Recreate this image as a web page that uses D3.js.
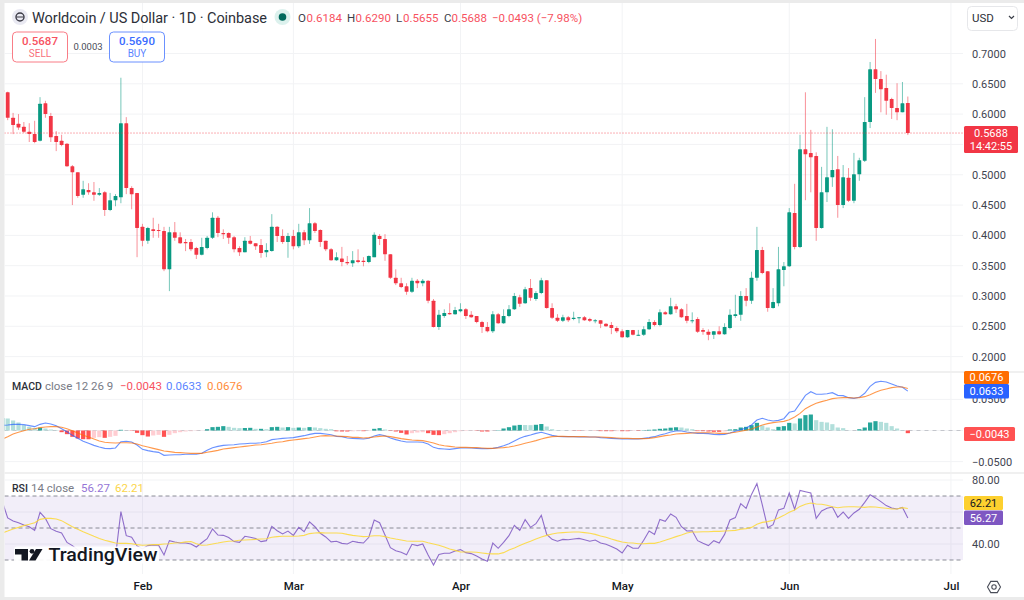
<!DOCTYPE html>
<html>
<head>
<meta charset="utf-8">
<title>Worldcoin / US Dollar</title>
<script src="https://cdn.jsdelivr.net/npm/d3@7"></script>
<style>
html,body{margin:0;padding:0;background:#fff;overflow:hidden}
svg{display:block}
text{font-family:Roboto,"Liberation Sans",sans-serif}
</style>
</head>
<body>
<svg id="chart" width="1024" height="600"></svg>
<script>
// Daily session values, one entry per day starting from firstDay.
const firstDay = Date.UTC(2026, 0, 6);
const monthStarts = [Date.UTC(2026,1,1), Date.UTC(2026,2,1), Date.UTC(2026,3,1), Date.UTC(2026,4,1), Date.UTC(2026,5,1), Date.UTC(2026,6,1)];

const opens = [.640,
.636,.594,.584,.579,.571,.567,.556,.618,.597,.564,
.556,.551,.514,.504,.467,.475,.471,.467,.471,.442,
.458,.463,.585,.478,.470,.414,.391,.410,.409,.407,
.344,.405,.397,.389,.389,.379,.368,.379,.396,.429,
.404,.404,.397,.379,.372,.391,.387,.384,.372,.374,
.414,.399,.389,.399,.382,.405,.392,.420,.409,.391,
.377,.359,.362,.356,.354,.359,.358,.356,.364,.399,
.394,.369,.330,.321,.316,.307,.325,.321,.325,.292,
.249,.267,.272,.270,.275,.278,.269,.267,.257,.249,
.242,.270,.255,.267,.278,.298,.288,.313,.295,.305,
.326,.280,.264,.259,.265,.262,.264,.265,.262,.259,
.260,.254,.252,.247,.242,.232,.244,.235,.236,.245,
.257,.252,.273,.270,.283,.278,.267,.259,.262,.244,
.241,.236,.242,.237,.247,.267,.269,.300,.292,.330,
.376,.341,.280,.288,.343,.349,.437,.381,.542,.536,
.531,.412,.471,.496,.509,.450,.495,.457,.501,.523,
.587,.674,.658,.643,.625,.610,.603,.6184];

const highs = [.645,
.637,.602,.600,.587,.585,.589,.628,.622,.602,.572,
.566,.552,.516,.504,.490,.486,.488,.478,.473,.470,
.468,.660,.595,.481,.470,.419,.414,.429,.419,.414,
.414,.422,.405,.394,.394,.381,.396,.399,.438,.432,
.410,.405,.399,.382,.397,.399,.387,.394,.387,.435,
.415,.410,.404,.409,.419,.409,.445,.422,.410,.391,
.379,.372,.381,.366,.374,.377,.364,.367,.405,.402,
.402,.369,.344,.330,.321,.330,.328,.328,.326,.295,
.277,.278,.288,.282,.288,.280,.275,.267,.259,.257,
.275,.272,.278,.285,.305,.302,.315,.328,.308,.330,
.326,.288,.270,.269,.267,.274,.265,.267,.264,.262,
.260,.255,.257,.250,.245,.244,.244,.244,.250,.262,
.260,.278,.275,.297,.287,.280,.287,.273,.265,.247,
.245,.242,.250,.255,.278,.302,.308,.313,.340,.414,
.381,.341,.313,.381,.356,.445,.485,.566,.636,.574,
.537,.513,.579,.575,.531,.516,.511,.536,.528,.628,
.686,.724,.671,.665,.627,.651,.653,.6290];

const lows = [.628,
.590,.567,.574,.569,.554,.552,.555,.594,.554,.539,
.547,.513,.450,.462,.462,.467,.457,.465,.432,.440,
.448,.453,.468,.443,.364,.382,.386,.396,.396,.341,
.308,.391,.386,.374,.374,.361,.367,.377,.394,.397,
.394,.386,.372,.366,.372,.385,.376,.363,.364,.373,
.389,.386,.363,.377,.379,.384,.386,.404,.381,.374,
.358,.358,.349,.351,.348,.354,.349,.354,.364,.384,
.358,.328,.318,.313,.302,.305,.313,.316,.288,.248,
.244,.264,.269,.269,.273,.262,.264,.255,.239,.240,
.239,.254,.254,.265,.277,.282,.287,.292,.292,.303,
.279,.262,.257,.257,.257,.260,.255,.259,.257,.255,
.247,.249,.237,.239,.231,.231,.235,.234,.234,.244,
.250,.250,.269,.269,.272,.264,.255,.255,.239,.236,
.227,.229,.236,.236,.245,.264,.259,.283,.287,.325,
.336,.274,.279,.283,.316,.348,.377,.379,.458,.471,
.391,.411,.455,.480,.429,.445,.455,.453,.490,.521,
.577,.635,.603,.599,.592,.590,.603,.5655];

const closes = [.636,
.594,.582,.578,.571,.567,.554,.617,.600,.562,.554,
.549,.514,.504,.465,.476,.471,.467,.470,.442,.458,
.465,.585,.478,.468,.412,.391,.412,.407,.407,.344,
.405,.396,.387,.387,.377,.368,.381,.396,.429,.404,
.402,.396,.377,.372,.391,.386,.382,.371,.376,.414,
.399,.389,.399,.382,.405,.392,.420,.407,.389,.377,
.359,.364,.356,.354,.359,.356,.356,.366,.401,.394,
.369,.330,.321,.315,.307,.325,.321,.325,.292,.249,
.269,.272,.270,.277,.278,.267,.265,.257,.249,.242,
.270,.255,.267,.278,.300,.287,.311,.297,.305,.326,
.280,.264,.259,.265,.260,.264,.265,.260,.259,.260,
.254,.250,.247,.242,.232,.244,.236,.236,.245,.257,
.252,.273,.270,.283,.278,.265,.259,.260,.241,.241,
.236,.242,.237,.249,.269,.270,.300,.292,.330,.376,
.338,.280,.290,.344,.349,.438,.381,.542,.534,.529,
.412,.471,.496,.508,.450,.496,.457,.501,.524,.587,
.674,.658,.641,.622,.610,.603,.618,.5688];

const macdLine = [.0083,
.0088,.0099,.0099,.0094,.0078,.0062,.0099,.0121,.0105,.0078,
.0029,-.0019,-.0078,-.0126,-.0174,-.0206,-.0239,-.0265,-.0287,-.0292,
-.0281,-.0180,-.0174,-.0185,-.0233,-.0303,-.0324,-.0340,-.0351,-.0399,
-.0394,-.0389,-.0389,-.0383,-.0383,-.0383,-.0367,-.0319,-.0276,-.0255,
-.0239,-.0233,-.0228,-.0217,-.0212,-.0206,-.0206,-.0196,-.0180,-.0147,
-.0137,-.0126,-.0121,-.0115,-.0099,-.0083,-.0062,-.0046,-.0046,-.0056,
-.0067,-.0094,-.0099,-.0121,-.0126,-.0131,-.0137,-.0126,-.0088,-.0067,
-.0083,-.0121,-.0147,-.0169,-.0185,-.0185,-.0185,-.0190,-.0217,-.0271,
-.0292,-.0297,-.0303,-.0292,-.0281,-.0281,-.0281,-.0287,-.0292,-.0292,
-.0287,-.0271,-.0244,-.0212,-.0169,-.0126,-.0094,-.0072,-.0046,-.0029,
-.0051,-.0078,-.0094,-.0099,-.0099,-.0099,-.0105,-.0105,-.0105,-.0105,
-.0115,-.0121,-.0126,-.0131,-.0137,-.0137,-.0137,-.0137,-.0126,-.0115,
-.0099,-.0072,-.0051,-.0024,-.0008,-.0008,-.0024,-.0035,-.0046,-.0046,
-.0051,-.0062,-.0067,-.0062,-.0040,-.0013,.0013,.0040,.0088,.0169,
.0196,.0169,.0153,.0163,.0190,.0292,.0314,.0437,.0565,.0624,
.0582,.0582,.0592,.0608,.0565,.0560,.0528,.0517,.0533,.0598,
.0710,.0774,.0791,.0780,.0748,.0716,.0694,.0633];

const signalLine = [-.0137,
-.0099,-.0056,-.0029,-.0003,.0019,.0029,.0046,.0056,.0062,.0062,
.0051,.0029,-.0003,-.0040,-.0078,-.0105,-.0137,-.0169,-.0190,-.0196,
-.0201,-.0196,-.0196,-.0201,-.0217,-.0244,-.0265,-.0287,-.0308,-.0330,
-.0340,-.0351,-.0356,-.0362,-.0367,-.0367,-.0367,-.0351,-.0335,-.0319,
-.0297,-.0287,-.0276,-.0265,-.0255,-.0244,-.0233,-.0228,-.0217,-.0206,
-.0190,-.0180,-.0163,-.0153,-.0142,-.0131,-.0121,-.0105,-.0088,-.0083,
-.0088,-.0088,-.0094,-.0099,-.0110,-.0110,-.0121,-.0115,-.0105,-.0094,
-.0088,-.0099,-.0115,-.0131,-.0142,-.0153,-.0158,-.0163,-.0180,-.0201,
-.0228,-.0244,-.0255,-.0265,-.0271,-.0271,-.0276,-.0276,-.0281,-.0287,
-.0287,-.0281,-.0276,-.0265,-.0249,-.0228,-.0206,-.0185,-.0163,-.0137,
-.0115,-.0099,-.0094,-.0094,-.0099,-.0099,-.0099,-.0099,-.0105,-.0105,
-.0105,-.0110,-.0115,-.0121,-.0126,-.0126,-.0131,-.0131,-.0131,-.0126,
-.0115,-.0099,-.0083,-.0072,-.0056,-.0051,-.0046,-.0040,-.0035,-.0035,
-.0035,-.0040,-.0046,-.0046,-.0040,-.0029,-.0013,.0003,.0024,.0056,
.0088,.0110,.0126,.0137,.0147,.0174,.0217,.0276,.0351,.0399,
.0437,.0464,.0485,.0512,.0523,.0528,.0528,.0523,.0528,.0544,
.0576,.0614,.0646,.0667,.0689,.0699,.0699,.0676];

const macdHist = [.0200,
.0193,.0161,.0129,.0086,.0059,.0043,.0045,.0032,.0016,.0005,
-.0027,-.0059,-.0102,-.0129,-.0140,-.0141,-.0118,-.0107,-.0118,-.0102,
-.0086,.0011,0,-.0005,-.0038,-.0075,-.0097,-.0080,-.0070,-.0102,
-.0070,-.0043,-.0027,-.0016,-.0011,-.0005,-.0002,.0021,.0054,.0059,
.0070,.0059,.0043,.0038,.0040,.0043,.0027,.0027,.0021,.0054,
.0059,.0048,.0054,.0043,.0048,.0043,.0054,.0048,.0038,.0027,
.0021,-.0013,-.0016,-.0016,-.0013,-.0011,-.0011,-.0005,.0027,.0038,
.0016,-.0005,-.0016,-.0038,-.0064,-.0043,-.0032,-.0027,-.0043,-.0070,
-.0075,-.0059,-.0043,-.0027,-.0011,-.0008,-.0005,-.0005,-.0016,-.0016,
-.0002,.0005,.0032,.0053,.0080,.0090,.0088,.0086,.0092,.0104,
.0064,.0021,.0005,.0003,0,-.0003,-.0006,-.0005,-.0003,-.0003,
-.0010,-.0011,-.0011,-.0010,-.0011,-.0011,-.0006,-.0006,.0005,.0011,
.0016,.0027,.0032,.0045,.0052,.0048,.0032,.0021,-.0010,-.0011,
-.0016,-.0021,-.0021,-.0016,.0016,.0021,.0048,.0059,.0086,.0123,
.0080,.0048,.0021,.0059,.0070,.0123,.0113,.0193,.0247,.0257,
.0166,.0139,.0129,.0102,.0048,.0038,.0003,.0001,.0021,.0048,
.0129,.0150,.0139,.0123,.0070,.0032,.0005,-.0043];

const rsiLine = [66.5,
56.3,54.4,53.3,51.9,50.8,48.5,59.8,56.0,49.6,47.9,
46.9,41.0,39.0,36.3,34.2,33.1,33.1,32.5,31.0,30.6,
32.1,60.2,45.2,44.2,38.8,36.9,39.0,39.4,39.2,33.1,
42.1,41.3,40.6,40.6,40.0,38.1,40.8,43.3,49.4,45.6,
45.4,44.0,41.5,41.0,44.8,44.2,43.5,41.5,42.1,51.0,
48.3,46.3,48.1,45.4,50.4,47.7,53.8,50.8,46.7,44.4,
41.3,41.7,40.4,40.0,41.7,41.0,40.6,44.2,55.0,53.3,
45.6,37.7,35.8,34.8,33.3,39.8,39.0,40.0,33.1,26.9,
33.5,34.2,34.2,35.6,36.5,34.6,34.0,32.5,30.6,29.2,
40.6,37.3,41.0,45.2,51.7,48.5,55.2,50.4,52.7,57.9,
46.0,42.9,41.7,42.9,42.7,43.1,43.5,42.7,41.7,42.5,
40.6,39.8,38.5,36.9,34.4,39.2,37.3,37.3,42.3,48.1,
46.0,55.4,54.2,58.8,56.7,50.8,48.1,48.3,42.1,40.4,
39.0,42.1,40.6,46.0,55.0,56.5,65.2,62.3,71.0,77.7,
64.4,50.2,52.1,61.3,62.3,71.9,61.7,73.5,72.7,71.9,
56.0,60.6,62.3,63.1,56.7,60.0,56.0,59.4,61.7,66.0,
70.8,68.8,66.5,64.0,62.5,61.9,62.9,56.27];

const rsiAverage = [46.9,
48.1,49.4,50.4,51.5,52.3,53.3,55.4,56.0,56.0,55.6,
54.6,52.7,50.8,49.2,47.7,46.3,44.8,43.5,42.3,41.5,
40.6,40.4,40.4,40.2,39.6,39.2,39.4,39.6,39.6,40.0,
40.2,40.6,40.8,41.3,41.5,40.2,39.2,39.4,40.0,40.6,
41.3,41.7,41.9,42.3,42.5,42.7,42.9,43.1,43.3,44.2,
44.6,44.8,44.8,44.8,45.0,45.4,46.5,46.9,47.1,46.9,
46.9,46.9,46.7,46.0,45.4,45.0,44.6,44.8,45.2,45.2,
44.6,43.8,43.1,42.5,41.9,41.7,41.7,41.7,40.8,40.0,
39.2,38.1,36.9,36.0,35.0,35.0,35.0,34.8,34.4,34.0,
33.8,33.8,34.6,36.3,37.5,39.0,40.4,41.7,43.1,44.4,
45.4,46.3,46.9,47.1,47.3,47.5,47.5,47.1,46.7,46.0,
45.0,44.2,43.1,42.1,41.3,40.8,40.6,40.2,40.2,40.4,
40.4,41.3,42.3,43.5,44.6,45.6,46.9,47.5,47.5,47.7,
47.7,47.9,47.9,48.1,48.3,48.5,49.2,49.6,50.4,52.3,
53.5,54.0,54.8,56.3,57.9,59.8,61.3,63.5,64.8,65.6,
65.0,64.8,64.2,63.3,62.7,63.1,63.3,63.3,63.1,62.9,
63.3,63.1,62.7,62.3,61.9,61.9,62.7,62.21];

const priceTicks = [0.2,0.25,0.3,0.35,0.4,0.45,0.5,0.55,0.6,0.65,0.7];
const priceLabels = [0.2,0.25,0.3,0.35,0.4,0.45,0.5,0.6,0.65,0.7];
const macdTicks = [0.05,0,-0.05];
const rsiTicks = [80,60,40];
const rsiGuides = [70,50,30];

const dates = closes.map((_, i) => new Date(d3.utcDay.offset(new Date(firstDay), i)));

// Palette
const UP = "#089981", DOWN = "#f23645", BLUE = "#2962ff", ORANGE = "#ff6d00";
const PURPLE = "#7e57c2", YELLOW = "#fdd835", INK = "#131722", GREY = "#787b86", AXIS = "#3f4450", GRID = "#f2f3f5";
const LEFT = 4.5, RIGHT = 963;

const svg = d3.select("#chart");
const font = 'Roboto,"Liberation Sans",sans-serif';

// Shared time axis and one value scale per pane
const x = d3.scaleUtc().domain([new Date(firstDay), new Date(monthStarts[5])]).range([2.31, 950.95]);
const yPrice = d3.scaleLinear().domain([0.2, 0.7]).range([356.6, 53.5]);
const yMacd = d3.scaleLinear().domain([-0.05, 0.05]).range([461.6, 399.4]);
const yRsi = d3.scaleLinear().domain([30, 80]).range([560, 480]);

// Frame and panes
svg.append("rect").attr("width", 1024).attr("height", 600).attr("fill", "#ebebeb");
svg.append("rect").attr("x", LEFT).attr("y", 3).attr("width", 1024 - LEFT).attr("height", 594).attr("fill", "#fff");
[[371, 2], [472, 2]].forEach(([top, h]) =>
  svg.append("rect").attr("x", LEFT).attr("y", top).attr("width", 1024 - LEFT).attr("height", h).attr("fill", "#f0f0f0"));

const defs = svg.append("defs");
defs.append("clipPath").attr("id", "plot").append("rect").attr("x", LEFT).attr("y", 3).attr("width", RIGHT - LEFT).attr("height", 572);

const plot = svg.append("g").attr("clip-path", "url(#plot)");

// Grid
const grid = plot.append("g").attr("stroke", GRID).attr("stroke-width", 1);
monthStarts.forEach(m => {
  [[3, 371], [373, 472], [474, 574]].forEach(([a, b]) =>
    grid.append("line").attr("x1", x(new Date(m))).attr("x2", x(new Date(m))).attr("y1", a).attr("y2", b));
});
const hGrid = (scale, ticks) => grid.append("g").selectAll("line").data(ticks).join("line")
  .attr("x1", LEFT).attr("x2", RIGHT).attr("y1", d => scale(d)).attr("y2", d => scale(d));
hGrid(yPrice, priceTicks);
hGrid(yMacd, macdTicks);
hGrid(yRsi, rsiTicks);

// Candles
const candle = plot.append("g").selectAll("g").data(d3.range(closes.length)).join("g");
const tone = i => closes[i] >= opens[i] ? UP : DOWN;
candle.append("line")
  .attr("x1", i => x(dates[i])).attr("x2", i => x(dates[i]))
  .attr("y1", i => yPrice(highs[i])).attr("y2", i => yPrice(lows[i]))
  .attr("stroke", tone).attr("stroke-opacity", 0.55).attr("stroke-width", 1);
candle.append("rect")
  .attr("x", i => x(dates[i]) - 1.9).attr("width", 3.8)
  .attr("y", i => yPrice(Math.max(opens[i], closes[i])))
  .attr("height", i => Math.max(1, Math.abs(yPrice(opens[i]) - yPrice(closes[i]))))
  .attr("rx", 0.5)
  .attr("fill", tone);

// Last price marker line
plot.append("line").attr("x1", LEFT).attr("x2", RIGHT)
  .attr("y1", yPrice(closes[closes.length - 1])).attr("y2", yPrice(closes[closes.length - 1]))
  .attr("stroke", DOWN).attr("stroke-width", 1).attr("stroke-dasharray", "1 2").attr("stroke-opacity", 0.8);

// MACD histogram: shade depends on whether the bar grew or shrank against the previous day
const histTone = i => {
  const v = macdHist[i], prev = i ? macdHist[i - 1] : v;
  if (v >= 0) return v >= prev ? "#26a69a" : "#b2dfdb";
  return v <= prev ? "#ff5252" : "#ffcdd2";
};
plot.append("line").attr("x1", LEFT).attr("x2", RIGHT).attr("y1", yMacd(0)).attr("y2", yMacd(0))
  .attr("stroke", "#c4c6cc").attr("stroke-dasharray", "4 4");
plot.append("g").selectAll("rect").data(d3.range(macdHist.length)).join("rect")
  .attr("x", i => x(dates[i]) - 2.1).attr("width", 4.2)
  .attr("y", i => Math.min(yMacd(0), yMacd(macdHist[i])))
  .attr("height", i => Math.abs(yMacd(macdHist[i]) - yMacd(0)))
  .attr("fill", histTone);

const seriesLine = (scale, values) => d3.line().x((_, i) => x(dates[i])).y(v => scale(v))(values);
plot.append("path").attr("d", seriesLine(yMacd, macdLine)).attr("fill", "none").attr("stroke", BLUE).attr("stroke-opacity", 0.7).attr("stroke-width", 1.1);
plot.append("path").attr("d", seriesLine(yMacd, signalLine)).attr("fill", "none").attr("stroke", ORANGE).attr("stroke-opacity", 0.7).attr("stroke-width", 1.1);

// RSI band, guides and lines
plot.append("rect").attr("x", LEFT).attr("width", RIGHT - LEFT)
  .attr("y", yRsi(rsiGuides[0])).attr("height", yRsi(rsiGuides[2]) - yRsi(rsiGuides[0]))
  .attr("fill", PURPLE).attr("fill-opacity", 0.1);
plot.append("g").selectAll("line").data(rsiGuides).join("line")
  .attr("x1", LEFT).attr("x2", RIGHT).attr("y1", d => yRsi(d)).attr("y2", d => yRsi(d))
  .attr("stroke", GREY).attr("stroke-opacity", 0.85).attr("stroke-dasharray", "4 3");
plot.append("path").attr("d", seriesLine(yRsi, rsiLine)).attr("fill", "none").attr("stroke", PURPLE).attr("stroke-opacity", 0.85).attr("stroke-width", 1.1);
plot.append("path").attr("d", seriesLine(yRsi, rsiAverage)).attr("fill", "none").attr("stroke", YELLOW).attr("stroke-opacity", 0.85).attr("stroke-width", 1.1);

// Axes
const styleAxis = g => {
  g.select(".domain").remove();
  g.selectAll(".tick line").remove();
  g.selectAll("text").attr("font-family", font);
};
const valueAxis = (scale, ticks, fmt) => svg.append("g").attr("transform", "translate(963,0)")
  .call(d3.axisRight(scale).tickValues(ticks).tickFormat(d3.format(fmt)).tickSize(0).tickPadding(9))
  .call(styleAxis).attr("font-size", 11).selectAll("text").attr("fill", AXIS);
valueAxis(yPrice, priceLabels, ".4f");
valueAxis(yMacd, macdTicks.filter(d => d !== 0), ".4f");
valueAxis(yRsi, [80, 40], ".2f");
svg.append("g").attr("transform", "translate(0,575)")
  .call(d3.axisBottom(x).tickValues(monthStarts.map(m => new Date(m))).tickFormat(d3.utcFormat("%b")).tickSize(0).tickPadding(7))
  .call(styleAxis).attr("font-size", 11.5).selectAll("text").attr("fill", INK).attr("font-weight", 500);

// Value tags on the right edge
const tag = (top, h, w, fill, color, lines) => {
  svg.append("rect").attr("x", 964).attr("y", top).attr("width", w).attr("height", h).attr("rx", 1.5).attr("fill", fill);
  lines.forEach(([txt, base]) => svg.append("text").attr("x", 964 + w / 2).attr("y", base)
    .attr("text-anchor", "middle").attr("font-size", 11).attr("fill", color).text(txt));
};
tag(126, 27, 54, DOWN, "#fff", [["0.5688", 137], ["14:42:55", 150]]);
tag(371, 13, 45, ORANGE, "#fff", [["0.0676", 381]]);
tag(384, 14.5, 45, BLUE, "#fff", [["0.0633", 395]]);
tag(427, 14, 51, "#ff5252", "#fff", [["\u22120.0043", 438]]);
tag(496, 14, 39, "#fdd02f", INK, [["62.21", 507]]);
tag(510.5, 14.5, 39, PURPLE, "#fff", [["56.27", 522]]);

// Header legend
const label = (xp, yp, txt, size, color, weight, anchor) => svg.append("text").attr("x", xp).attr("y", yp)
  .attr("font-size", size).attr("fill", color).attr("font-weight", weight || 400).attr("text-anchor", anchor || "start").text(txt);

svg.append("circle").attr("cx", 20).attr("cy", 17).attr("r", 8).attr("fill", "#e9e9f2");
svg.append("circle").attr("cx", 20).attr("cy", 17).attr("r", 4).attr("fill", "none").attr("stroke", "#3a3a45").attr("stroke-width", 1.4);
svg.append("line").attr("x1", 16.5).attr("x2", 23.5).attr("y1", 17).attr("y2", 17).attr("stroke", "#3a3a45").attr("stroke-width", 1);
label(32, 22.5, "Worldcoin / US Dollar \u00b7 1D \u00b7 Coinbase", 14.5, "#2c2f38", 400).attr("textLength", 235).attr("lengthAdjust", "spacing");
svg.append("circle").attr("cx", 282.5).attr("cy", 17).attr("r", 8).attr("fill", UP).attr("fill-opacity", 0.14);
svg.append("circle").attr("cx", 282.5).attr("cy", 17).attr("r", 3.8).attr("fill", "#00695c");

const legendRed = "#f7525f";
[[298, "O", 306.5, "0.6184"], [347, "H", 355.5, "0.6290"], [396, "L", 403, "0.5655"], [444, "C", 451.5, "0.5688"]].forEach(([a, k, b, v]) => {
  label(a, 22, k, 11.5, "#3a3e48");
  label(b, 22, v, 11.5, legendRed);
});
label(492, 22, "\u22120.0493 (\u22127.98%)", 11.5, legendRed);

// Bid and ask boxes
const quote = (bx, color, value, side) => {
  svg.append("rect").attr("x", bx).attr("y", 32).attr("width", 55).attr("height", 30).attr("rx", 4)
    .attr("fill", "#fff").attr("stroke", color).attr("stroke-opacity", 0.75);
  label(bx + 27.5, 45, value, 11.5, color, 500, "middle");
  label(bx + 27.5, 57, side, 10, color, 400, "middle").attr("fill-opacity", 0.85);
};
quote(12.5, "#f7525f", "0.5687", "SELL");
quote(109.5, "#3a6cff", "0.5690", "BUY");
label(88, 50, "0.0003", 9.5, "#4a4e59", 400, "middle");

// Indicator legends
label(12, 390, "MACD", 10.5, "#2c2f38", 500);
label(45, 390, "close 12 26 9", 11.5, GREY);
label(120, 390, "\u22120.0043", 11.5, legendRed);
label(166, 390, "0.0633", 11.5, "#5b84ff");
label(207, 390, "0.0676", 11.5, "#ff8c3a");
label(12, 492, "RSI", 10.5, "#2c2f38", 500);
label(31, 492, "14 close", 11.5, GREY);
label(81, 492, "56.27", 11.5, "#9575d6");
label(115, 492, "62.21", 11.5, "#fbd54a");

// Currency selector
svg.append("rect").attr("x", 967.5).attr("y", 6.5).attr("width", 50).attr("height", 24).attr("rx", 4)
  .attr("fill", "#fff").attr("stroke", "#e6e7ea");
label(972, 22, "USD", 11.5, "#2c2f38");
svg.append("path").attr("d", d3.line()([[1009, 16], [1011.5, 18.5], [1014, 16]])).attr("fill", "none").attr("stroke", "#3a3e48").attr("stroke-width", 1.2);

// Brand mark
svg.append("rect").attr("x", 14).attr("y", 546.5).attr("width", 145).attr("height", 17).attr("rx", 3).attr("fill", "#fff").attr("fill-opacity", 0.92);
svg.append("path").attr("d", d3.line()([[15, 549], [28, 549], [28, 560.5], [21.5, 560.5], [21.5, 554.5], [15, 554.5]]) + "Z").attr("fill", INK);
svg.append("circle").attr("cx", 32).attr("cy", 551.3).attr("r", 2.4).attr("fill", INK);
svg.append("path").attr("d", d3.line()([[36, 549], [42.5, 549], [35.5, 560.5], [29, 560.5]]) + "Z").attr("fill", INK);
svg.append("text").attr("x", 48.5).attr("y", 560.5).attr("font-family", "Inter,Roboto,sans-serif")
  .attr("font-size", 17.5).attr("font-weight", 500).attr("fill", INK).attr("textLength", 109).attr("lengthAdjust", "spacingAndGlyphs").text("TradingView");

// Scale settings button
const hexagon = d3.range(6).map(k => [994 + 6.5 * Math.cos(k * Math.PI / 3), 587 + 6.5 * Math.sin(k * Math.PI / 3)]);
svg.append("path").attr("d", d3.line()(hexagon) + "Z").attr("fill", "none").attr("stroke", "#4a4e59").attr("stroke-width", 1.1);
svg.append("circle").attr("cx", 994).attr("cy", 587).attr("r", 2.2).attr("fill", "none").attr("stroke", "#4a4e59").attr("stroke-width", 1.1);
</script>
</body>
</html>
